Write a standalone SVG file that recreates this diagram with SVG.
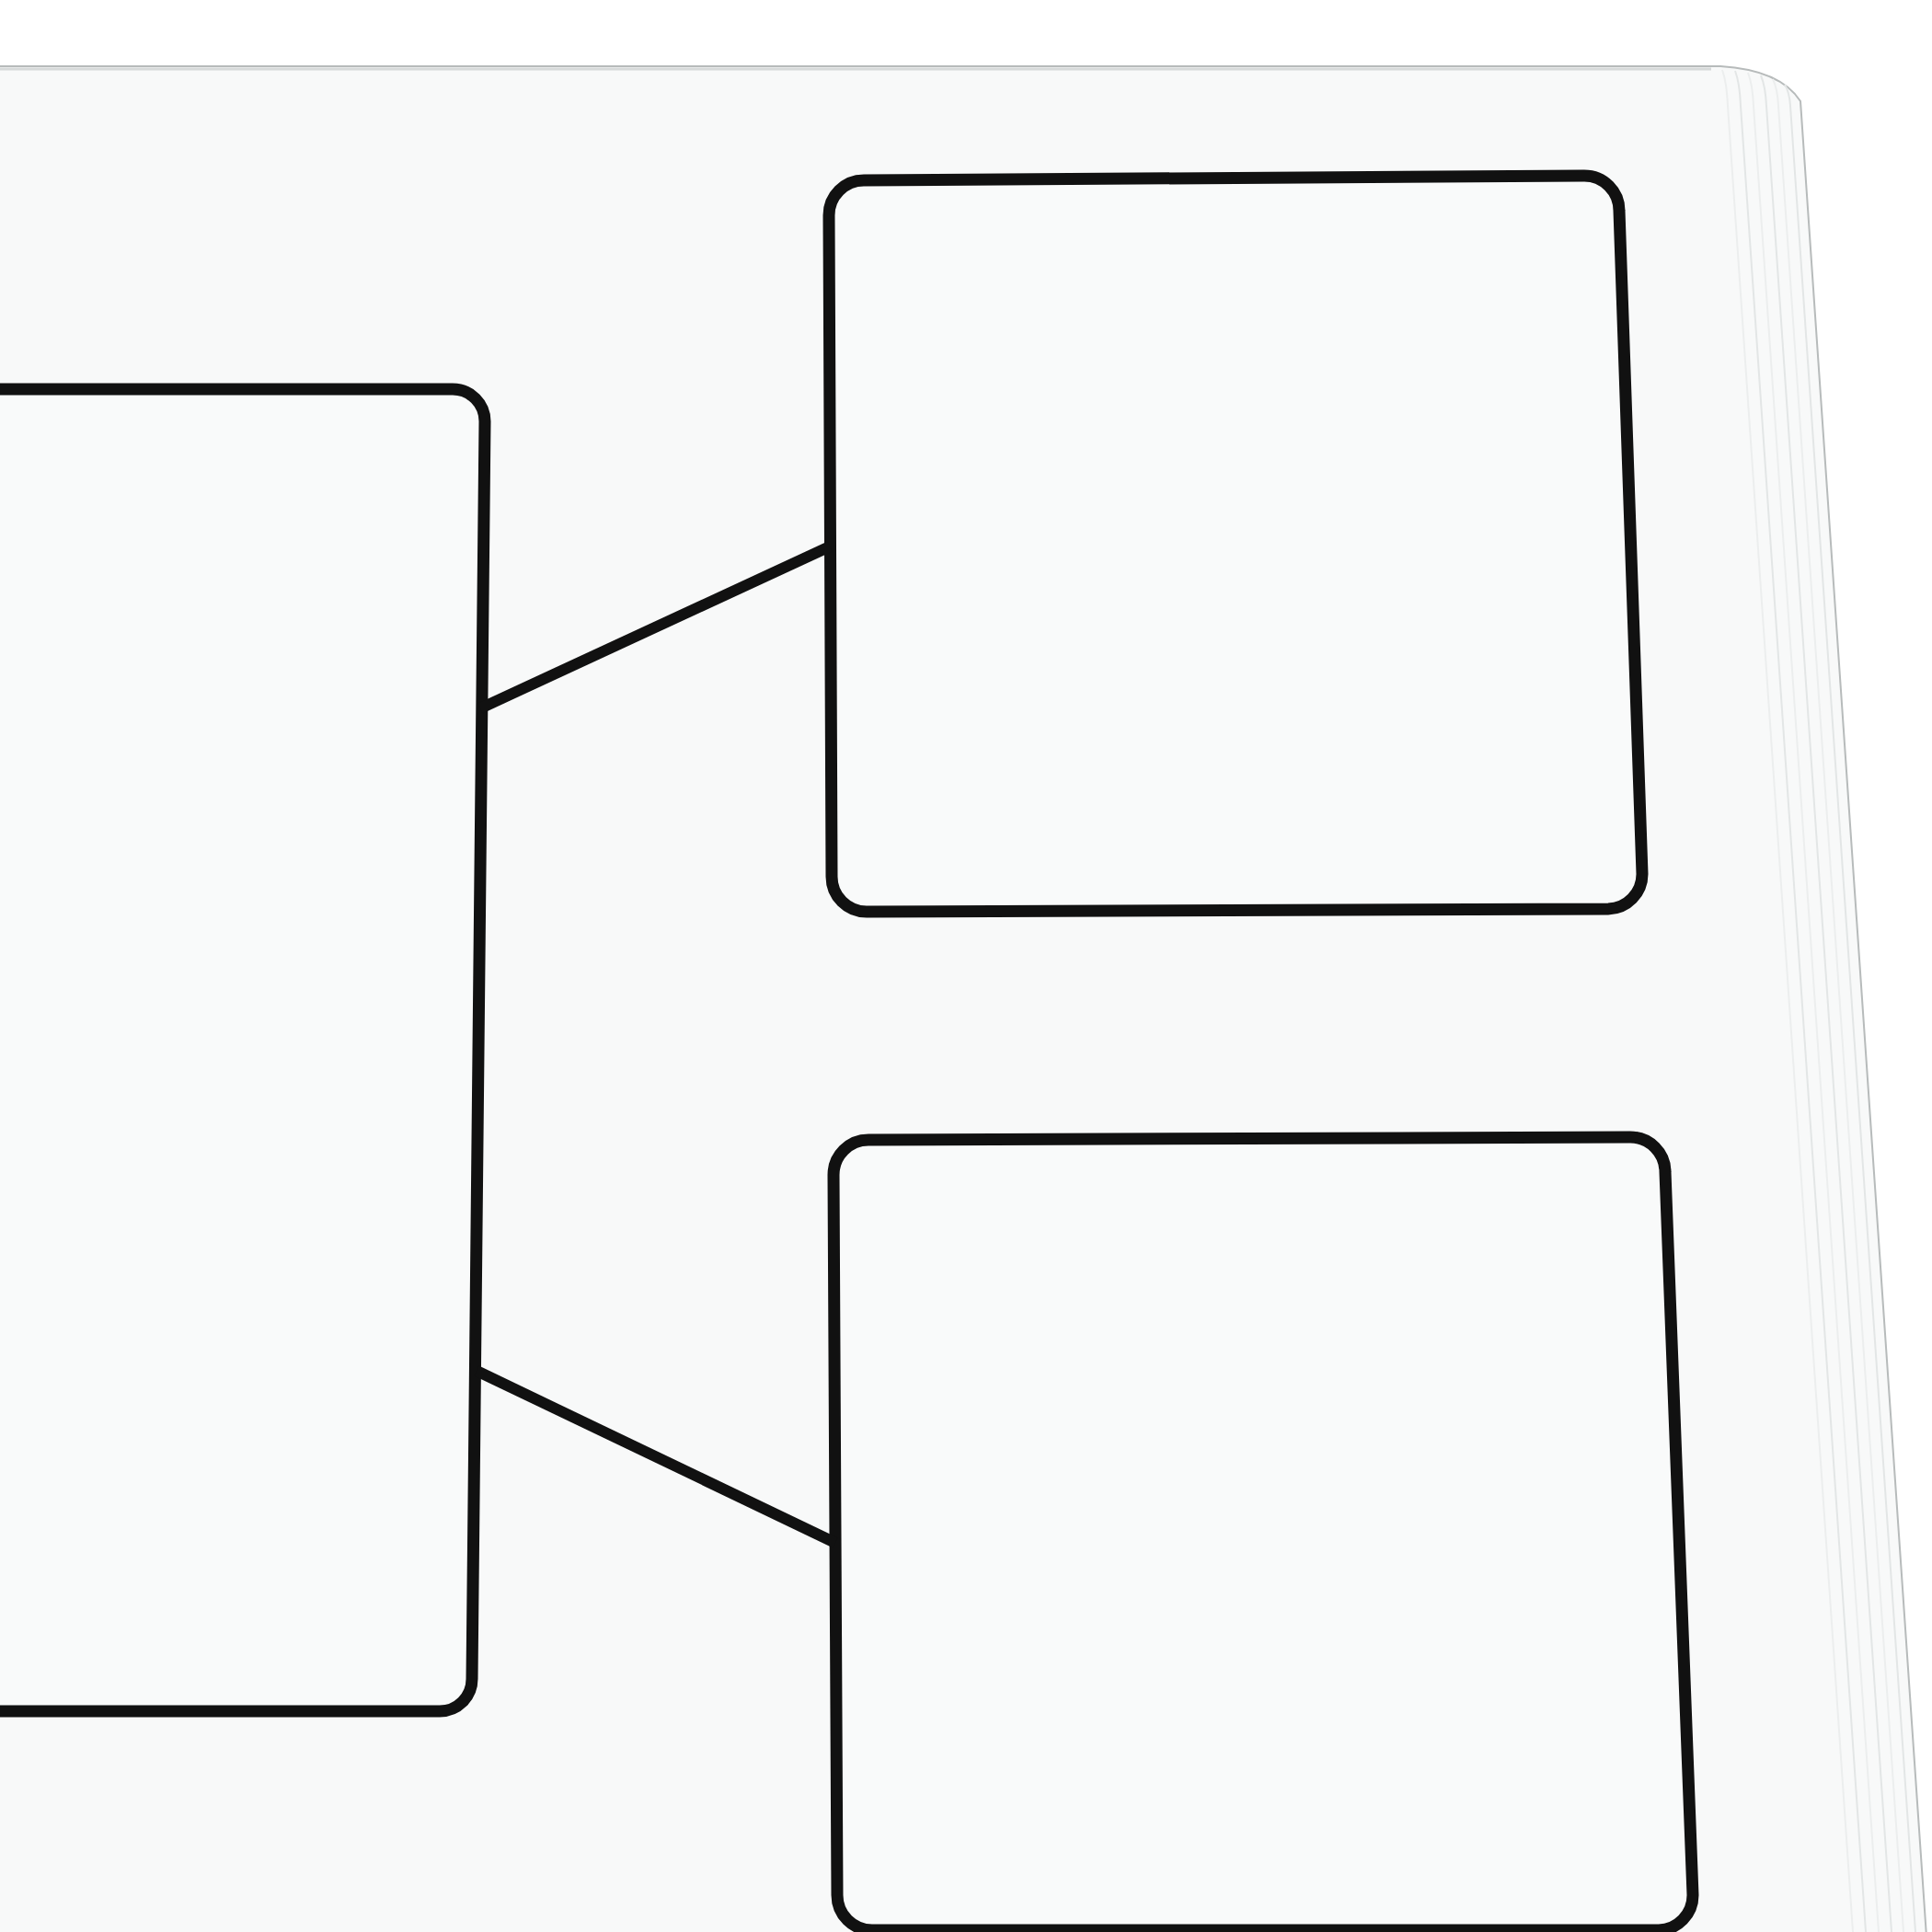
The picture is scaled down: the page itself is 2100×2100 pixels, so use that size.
<svg xmlns="http://www.w3.org/2000/svg" width="2100" height="2100" viewBox="0 0 2100 2100">
  <style>
    .paper { fill: #f8f9f9; stroke: #b7bbbb; stroke-width: 2; }
    .stack { fill: none; stroke: #e3e6e6; stroke-width: 2; }
    .stack2 { fill: none; stroke: #eceeee; stroke-width: 2; }
    .node { fill: #f9fafa; stroke: #111111; stroke-width: 13; stroke-linejoin: round; }
    .edge { fill: none; stroke: #111111; stroke-width: 12; stroke-linecap: butt; }
  </style>
  <rect x="0" y="0" width="2100" height="2100" fill="#ffffff"/>
  <g id="paper">
    <path class="paper" d="M -5,72 L 1870,72 Q 1935,76 1957,110 L 2094,2105 L -5,2105 Z"/>
    <line x1="0" y1="75" x2="1860" y2="75" stroke="#d6d9d9" stroke-width="3"/>
    <path class="stack" d="M 1940,92 Q 1945,100 1946,115 L 2082,2100"/>
    <path class="stack2" d="M 1927,86 Q 1932,96 1933,115 L 2069,2100"/>
    <path class="stack" d="M 1914,82 Q 1919,94 1920,115 L 2056,2100"/>
    <path class="stack2" d="M 1900,79 Q 1905,92 1906,115 L 2042,2100"/>
    <path class="stack" d="M 1886,77 Q 1891,90 1892,115 L 2028,2100"/>
    <path class="stack2" d="M 1872,76 Q 1877,90 1878,115 L 2014,2100"/>
  </g>
  <g id="node-left">
    <path class="node" d="M -40,423 L 492,423 A 35 35 0 0 1 527,458 L 513,1825 A 35 35 0 0 1 478,1860 L -40,1860 Z"/>
  </g>
  <g id="node-top-right">
    <path class="node" d="M 901,234 A 38 38 0 0 1 939,196 L 1722,191 A 38 38 0 0 1 1760,229 L 1785,950 A 38 38 0 0 1 1748,988 L 942,991 A 38 38 0 0 1 904,953 Z"/>
  </g>
  <g id="node-bottom-right">
    <path class="node" d="M 906,1277 A 38 38 0 0 1 944,1239 L 1772,1236 A 38 38 0 0 1 1810,1274 L 1840,2060 A 38 38 0 0 1 1803,2098 L 948,2098 A 38 38 0 0 1 910,2060 Z"/>
  </g>
  <g id="connectors">
    <line class="edge" x1="522" y1="770" x2="902" y2="594"/>
    <line class="edge" x1="518" y1="1490" x2="908" y2="1677"/>
  </g>
</svg>
